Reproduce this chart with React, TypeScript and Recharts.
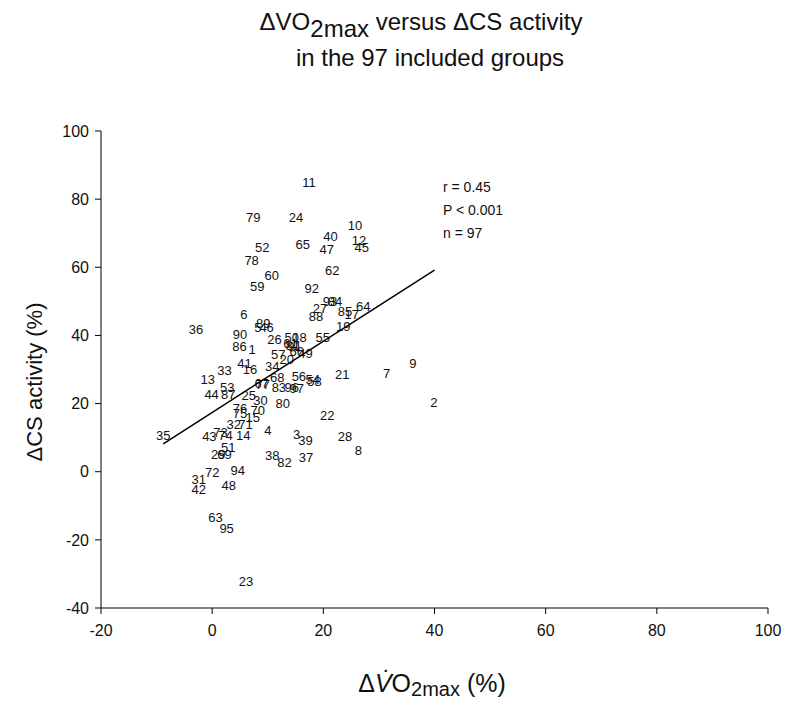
import React from 'react';
import { ScatterChart, Scatter, XAxis, YAxis, Customized } from 'recharts';

// Group numbers (labels drawn at each point)
const groupIds: number[] = [
  1, 2, 3, 4, 5, 6, 7, 8, 9, 10, 11, 12, 13, 14, 15, 16, 17, 18, 19, 20,
  21, 22, 23, 24, 25, 26, 27, 28, 29, 30, 31, 32, 33, 34, 35, 36, 37, 38, 39, 40,
  41, 42, 43, 44, 45, 46, 47, 48, 49, 50, 51, 52, 53, 54, 55, 56, 57, 58, 59, 60,
  61, 62, 63, 64, 65, 66, 67, 68, 69, 70, 71, 72, 73, 74, 75, 76, 77, 78, 79, 80,
  81, 82, 83, 84, 85, 86, 87, 88, 89, 90, 91, 92, 93, 94, 95, 96, 97,
];

// ΔVO2max (%)
const deltaVO2: number[] = [
  7.2, 39.9, 15.2, 10.0, 8.2, 5.7, 31.4, 26.3, 36.1, 25.7, 17.4, 26.4, -0.8, 5.6, 7.3, 6.8, 25.1, 15.7, 23.6, 13.4,
  23.4, 20.7, 6.1, 15.1, 6.6, 11.2, 19.4, 23.9, 1.1, 8.7, -2.4, 3.9, 2.2, 10.8, -8.8, -2.9, 16.9, 10.8, 16.8, 21.3,
  5.8, -2.4, -0.5, -0.1, 26.9, 9.8, 20.6, 3.0, 16.8, 14.3, 2.9, 9.0, 2.7, 18.1, 19.9, 15.6, 11.9, 18.4, 8.1, 10.7,
  14.1, 21.6, 0.6, 27.2, 16.3, 15.2, 8.9, 11.7, 2.2, 8.2, 6.0, 0.0, 1.5, 2.4, 5.0, 5.0, 9.1, 7.1, 7.4, 12.7,
  14.5, 13.0, 12.0, 22.1, 23.9, 4.9, 2.9, 18.7, 9.2, 5.0, 14.8, 17.9, 21.2, 4.6, 2.6, 14.3, 15.2,
];

// ΔCS activity (%)
const deltaCS: number[] = [
  35.8, 20.4, 10.9, 12.0, 42.2, 46.0, 28.9, 6.2, 31.9, 72.4, 84.8, 68.0, 27.2, 10.6, 16.0, 30.1, 46.0, 39.5, 42.6, 33.0,
  28.5, 16.4, -32.3, 74.7, 22.4, 38.9, 47.8, 10.2, 5.0, 20.8, -2.3, 13.8, 29.6, 30.9, 10.6, 41.6, 4.3, 4.8, 9.2, 69.0,
  31.9, -5.3, 10.4, 22.6, 65.7, 42.2, 65.1, -4.1, 34.8, 39.5, 7.0, 65.8, 24.8, 27.0, 39.5, 28.0, 34.3, 26.4, 54.3, 57.7,
  37.5, 59.0, -13.3, 48.5, 66.8, 35.2, 25.8, 27.7, 5.0, 17.9, 13.8, -0.1, 11.4, 10.6, 17.2, 18.7, 25.6, 62.0, 74.7, 19.9,
  36.9, 2.7, 24.8, 50.0, 47.0, 36.7, 22.6, 45.5, 43.4, 40.2, 36.7, 53.8, 50.0, 0.3, -16.8, 24.6, 24.3,
];

const xTicks: number[] = [-20, 0, 20, 40, 60, 80, 100];
const yTicks: number[] = [-40, -20, 0, 20, 40, 60, 80, 100];

// Regression line parameters
const regIntercept = 17.4;
const regSlope = 1.045;
const regRange: number[] = [-8.8, 40];

const stats: string[] = ['r = 0.45', 'P <  0.001', 'n = 97'];

const points = groupIds.map((id, i) => ({ id, x: deltaVO2[i], y: deltaCS[i] }));
const lineData = regRange.map((x) => ({ x, y: regIntercept + regSlope * x }));

const FONT = '"Liberation Sans", Arial, sans-serif';
const INK = '#111';

const LabelShape = (props: any) => {
  const { cx, cy, payload } = props;
  return (
    <text
      x={cx}
      y={cy}
      textAnchor="middle"
      dominantBaseline="central"
      fontSize={13}
      fontFamily={FONT}
      fill={INK}
      stroke="none"
    >
      {payload.id}
    </text>
  );
};

const Overlay = () => (
  <g fontFamily={FONT} fill={INK}>
    <text x={421} y={30} textAnchor="middle" fontSize={24}>
      <tspan>ΔVO</tspan>
      <tspan dy={7}>2max</tspan>
      <tspan dy={-7}> versus ΔCS activity</tspan>
    </text>
    <text x={430} y={66} textAnchor="middle" fontSize={24}>
      in the 97 included groups
    </text>
    {stats.map((s, i) => (
      <text key={s} x={443} y={192 + i * 23} fontSize={14}>
        {s}
      </text>
    ))}
    <text
      x={0}
      y={0}
      transform="translate(42,382) rotate(-90)"
      textAnchor="middle"
      fontSize={22}
    >
      ΔCS activity (%)
    </text>
    <text x={432} y={692} textAnchor="middle" fontSize={25}>
      <tspan>Δ</tspan>
      <tspan fontStyle="italic">V̇</tspan>
      <tspan>O</tspan>
      <tspan dy={4} fontSize={20}>2max</tspan>
      <tspan dy={-4}> (%)</tspan>
    </text>
  </g>
);

export default function App() {
  return (
    <div style={{ position: 'absolute', left: 0, top: 0, width: 800, height: 705, background: '#fff' }}>
      <ScatterChart
        width={800}
        height={705}
        margin={{ top: 131, right: 32, bottom: 57, left: 41 }}
      >
        <XAxis
          type="number"
          dataKey="x"
          domain={[-20, 100]}
          ticks={xTicks}
          allowDataOverflow
          height={40}
          tickSize={6}
          tickMargin={11}
          stroke="#000"
          tick={{ fill: INK, fontSize: 16, fontFamily: FONT }}
        />
        <YAxis
          type="number"
          dataKey="y"
          domain={[-40, 100]}
          ticks={yTicks}
          allowDataOverflow
          width={60}
          tickSize={6}
          tickMargin={6}
          stroke="#000"
          tick={{ fill: INK, fontSize: 16, fontFamily: FONT }}
        />
        <Scatter data={points} shape={LabelShape} isAnimationActive={false} />
        <Scatter
          data={lineData}
          line={{ stroke: '#000', strokeWidth: 1.5 }}
          shape={() => <g />}
          isAnimationActive={false}
        />
        <Customized component={Overlay} />
      </ScatterChart>
    </div>
  );
}
